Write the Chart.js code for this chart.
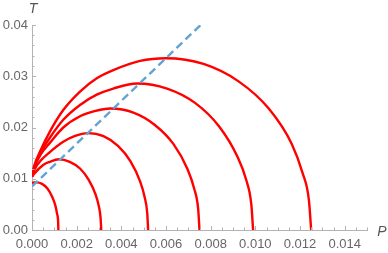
<!DOCTYPE html>
<html>
<head>
<meta charset="utf-8">
<script src="https://cdn.jsdelivr.net/npm/chart.js@4.4.0/dist/chart.umd.min.js"></script>
<style>
  html, body { margin: 0; padding: 0; background: #fff; }
  #wrap { position: relative; width: 388px; height: 253px; }
</style>
</head>
<body>
<div id="wrap"><canvas id="chart"></canvas></div>
<script>
// tick labels
const xTicks = [0, 0.002, 0.004, 0.006, 0.008, 0.010, 0.012, 0.014];
const yTicks = [0, 0.01, 0.02, 0.03, 0.04];

// red curves, P (x) and T (y)
const c1P = [0, 0.0001, 0.0002, 0.00045, 0.00069, 0.00089, 0.00105, 0.00112, 0.00117, 0.00118];
const c1T = [0.0092, 0.00928, 0.0093, 0.0090, 0.0081, 0.0066, 0.0047, 0.0032, 0.0016, 0];

const c2P = [0, 0.0001, 0.0005, 0.0008, 0.0012, 0.00169, 0.00215, 0.00254, 0.00285, 0.00299, 0.00307, 0.0031];
const c2T = [0.0104, 0.0110, 0.0127, 0.0133, 0.0138, 0.0133, 0.0120, 0.0098, 0.0069, 0.0047, 0.0024, 0];

const c3P = [0, 0.0001, 0.0004, 0.0008, 0.0014, 0.0019, 0.0025, 0.0032, 0.00385, 0.00441, 0.00484, 0.00504, 0.00516, 0.0052];
const c3T = [0.0104, 0.0117, 0.0136, 0.0152, 0.0172, 0.0183, 0.0189, 0.0183, 0.0164, 0.0134, 0.0095, 0.0065, 0.0033, 0];

const c4P = [0, 0.0001, 0.0004, 0.0008, 0.0014, 0.00215, 0.0028, 0.0035, 0.00454, 0.0055, 0.00633, 0.00696, 0.00726, 0.00744, 0.0075];
const c4T = [0.0104, 0.0121, 0.0148, 0.0170, 0.0200, 0.0222, 0.0232, 0.0237, 0.0229, 0.0205, 0.0168, 0.0119, 0.0081, 0.0041, 0];

const c5P = [0, 0.0001, 0.0004, 0.0008, 0.0014, 0.00215, 0.0029, 0.00364, 0.0047, 0.00605, 0.0073, 0.00838, 0.0092, 0.00959, 0.00982, 0.0099];
const c5T = [0.0104, 0.0123, 0.0152, 0.0180, 0.0215, 0.0244, 0.0264, 0.0276, 0.0286, 0.0276, 0.0248, 0.0202, 0.0143, 0.0098, 0.0050, 0];

const c6P = [0, 0.0001, 0.00036, 0.0008, 0.0014, 0.00215, 0.0029, 0.00364, 0.00484, 0.006, 0.00768, 0.00925, 0.0106, 0.01163, 0.01211, 0.0124, 0.0125];
const c6T = [0.0104, 0.0125, 0.0153, 0.0192, 0.0234, 0.0270, 0.0296, 0.0312, 0.0330, 0.0335, 0.0324, 0.0290, 0.0237, 0.0168, 0.0112, 0.0058, 0];

// dashed blue line
const lineP = [0, 0.00755];
const lineT = [0.0085, 0.0400];

const axisColor = '#b3b3b3';
const labelColor = '#666666';
const fontFamily = '"Liberation Sans", Arial, sans-serif';

const toXY = (P, T) => P.map((p, i) => ({ x: p, y: T[i] }));

const redCurve = (P, T) => ({
    data: toXY(P, T),
    borderColor: '#ff0000',
    borderWidth: 2.4,
    pointRadius: 0,
    showLine: true,
    cubicInterpolationMode: 'monotone',
    order: 1
});

// ticks pointing into the plot, plus the axis names
const innerTicks = {
    id: 'innerTicks',
    afterDraw(chart) {
        const { ctx, chartArea: a, scales: { x, y } } = chart;
        ctx.save();
        ctx.strokeStyle = axisColor;
        ctx.lineWidth = 1;
        ctx.beginPath();
        for (let i = 0; i <= 30; i++) {
            const v = i * 0.0005;
            const px = Math.round(x.getPixelForValue(v)) + 0.5;
            const len = i % 4 === 0 ? 4 : 2.5;
            ctx.moveTo(px, a.bottom);
            ctx.lineTo(px, a.bottom - len);
        }
        for (let i = 0; i <= 20; i++) {
            const v = i * 0.002;
            const py = Math.round(y.getPixelForValue(v)) + 0.5;
            const len = i % 5 === 0 ? 4 : 2.5;
            ctx.moveTo(a.left, py);
            ctx.lineTo(a.left + len, py);
        }
        ctx.stroke();

        ctx.fillStyle = '#555555';
        ctx.font = 'italic 14px ' + fontFamily;
        ctx.textAlign = 'center';
        ctx.textBaseline = 'middle';
        ctx.fillText('T', 33, 9);
        ctx.fillText('P', 382, 232);
        ctx.restore();
    }
};

new Chart(document.getElementById('chart'), {
    type: 'scatter',
    data: {
        datasets: [
            {
                data: toXY(lineP, lineT),
                borderColor: 'rgb(98, 163, 210)',
                borderWidth: 2.4,
                borderDash: [8, 4.5],
                pointRadius: 0,
                showLine: true,
                order: 0
            },
            redCurve(c1P, c1T),
            redCurve(c2P, c2T),
            redCurve(c3P, c3T),
            redCurve(c4P, c4T),
            redCurve(c5P, c5T),
            redCurve(c6P, c6T)
        ]
    },
    options: {
        responsive: true,
        maintainAspectRatio: false,
        animation: false,
        devicePixelRatio: 1,
        layout: { padding: { left: 0, right: 21, top: 25, bottom: 0 } },
        plugins: { legend: { display: false }, tooltip: { enabled: false } },
        scales: {
            x: {
                type: 'linear',
                min: 0,
                max: 0.015,
                afterBuildTicks: s => { s.ticks = xTicks.map(v => ({ value: v })); },
                afterFit: s => { s.height = 23; },
                grid: { display: false, drawTicks: false },
                border: { display: true, color: axisColor, width: 1 },
                ticks: {
                    autoSkip: false,
                    maxRotation: 0,
                    padding: 7,
                    color: labelColor,
                    font: { size: 13, family: fontFamily },
                    callback: v => v.toFixed(3)
                }
            },
            y: {
                type: 'linear',
                min: 0,
                max: 0.04,
                afterBuildTicks: s => { s.ticks = yTicks.map(v => ({ value: v })); },
                afterFit: s => { s.width = 32; },
                grid: { display: false, drawTicks: false },
                border: { display: true, color: axisColor, width: 1 },
                ticks: {
                    padding: 4,
                    color: labelColor,
                    font: { size: 13, family: fontFamily },
                    callback: v => v.toFixed(2)
                }
            }
        }
    },
    plugins: [innerTicks]
});
</script>
</body>
</html>
